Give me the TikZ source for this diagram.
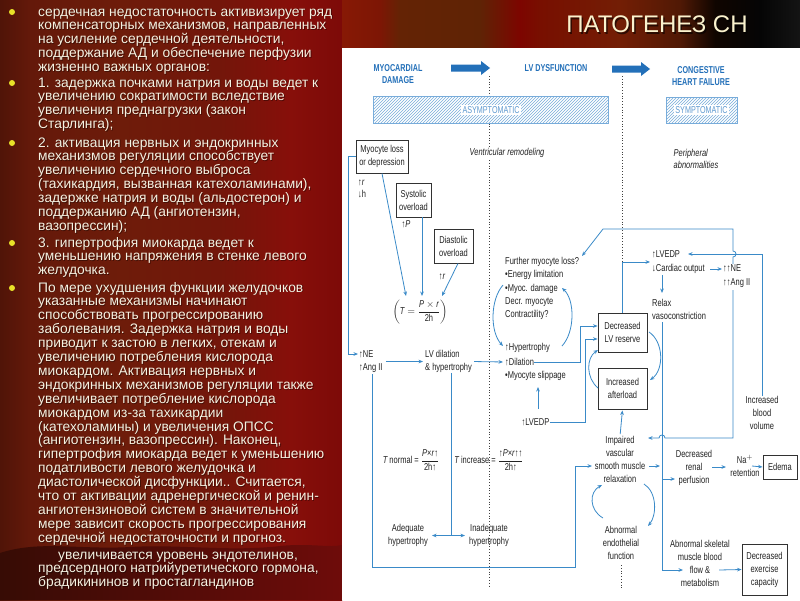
\documentclass[tikz,border=0pt]{standalone}
\usepackage{amsmath}
\usepackage{fontspec}
\setmainfont{Liberation Sans}
\newfontfamily\slidefont{Liberation Sans}
\newfontfamily\dfont[FakeStretch=0.75]{Liberation Sans}
\newfontfamily\hfont[FakeStretch=0.72]{Liberation Sans}
\usetikzlibrary{arrows.meta,patterns}

\definecolor{txt}{RGB}{246,242,226}
\definecolor{bul}{RGB}{232,226,40}
\definecolor{dtxt}{RGB}{34,34,34}
\definecolor{lblue}{RGB}{58,138,200}
\definecolor{hblue}{RGB}{35,112,185}
\definecolor{hatchc}{RGB}{120,172,218}
\definecolor{boxc}{RGB}{50,50,50}
\definecolor{titlec}{RGB}{250,242,205}
\definecolor{waveL}{RGB}{55,12,5}
\definecolor{waveR}{RGB}{110,12,10}

\pgfdeclarehorizontalshading{leftpanel}{100bp}{rgb(0bp)=(0.314,0.078,0.031); rgb(25bp)=(0.314,0.078,0.031); rgb(29.4bp)=(0.392,0.098,0.039); rgb(42.5bp)=(0.431,0.11,0.039); rgb(57.2bp)=(0.451,0.086,0.039); rgb(67.4bp)=(0.529,0.059,0.039); rgb(75bp)=(0.49,0.039,0.031); rgb(100bp)=(0.49,0.039,0.031)}
\pgfdeclarehorizontalshading{topbar}{100bp}{rgb(0bp)=(0.529,0.098,0.02); rgb(25bp)=(0.529,0.098,0.02); rgb(29.15bp)=(0.49,0.086,0.02); rgb(31.33bp)=(0.392,0.137,0.02); rgb(40.07bp)=(0.373,0.137,0.02); rgb(44.43bp)=(0.49,0.02,0); rgb(46.62bp)=(0.47,0.059,0); rgb(55.35bp)=(0.451,0.118,0.02); rgb(61.9bp)=(0.314,0.098,0.02); rgb(65.72bp)=(0.059,0.02,0); rgb(70.63bp)=(0.02,0.02,0.02); rgb(75bp)=(0.078,0.078,0.078); rgb(100bp)=(0.078,0.078,0.078)}

\newcommand\TL[3]{\node[tls] at ({#1+0.8},{#2+4.8}) {#3};\node[tl] at (#1,{#2+4}) {#3};}
\newcommand\dfr[2]{\ensuremath{\dfrac{\text{#1}}{\text{#2}}}}

\begin{document}
\begin{tikzpicture}[x=1pt,y=-1pt,
  tl/.style={anchor=base west,inner sep=0pt,text=txt,font=\slidefont\fontsize{13.8}{16}\selectfont},
  tls/.style={tl,text=black,text opacity=0.4},
  dt/.style={inner sep=0pt,text=dtxt,align=center,font=\dfont\fontsize{10}{13}\selectfont},
  dtl/.style={dt,align=left,anchor=west},
  dbox/.style={dt,draw=boxc,line width=0.9pt,fill=white},
  hdr/.style={inner sep=0pt,text=hblue,align=center,font=\hfont\bfseries\fontsize{10}{12}\selectfont},
  bl/.style={draw=lblue,line width=0.8pt},
  ar/.style={bl,-{Stealth[length=4.5pt,width=3.6pt]}},
  dar/.style={bl,{Stealth[length=4.5pt,width=3.6pt]}-{Stealth[length=4.5pt,width=3.6pt]}},
  dotl/.style={draw=black!75,line width=0.8pt,dotted},
  bulletdot/.style={fill=bul},
]
\useasboundingbox (0,0) rectangle (800,600);
% ---------- background ----------
\shade[shading=leftpanel] (0,0) rectangle (342,600);
\shade[shading=topbar] (342,0) rectangle (800,48);
\shade[left color=waveL,right color=waveR] (0,553) .. controls (40,540) and (80,550) .. (130,547) .. controls (180,544) and (230,552) .. (280,546) .. controls (310,543) and (330,548) .. (342,545) -- (342,600) -- (0,600) -- cycle;
\fill[white] (342,48) rectangle (800,600);
% ---------- title ----------
\node[inner sep=0pt,font=\slidefont\fontsize{24}{28}\selectfont,text=black,text opacity=0.6] (titles) at (658.5,26) {ПАТОГЕНЕЗ СН};
\node[inner sep=0pt,font=\slidefont\fontsize{24}{28}\selectfont,text=titlec] (title) at (657,24.5) {ПАТОГЕНЕЗ СН};
% ---------- bullets ----------
\foreach \by in {12,83,143,243,288} \fill[bulletdot] (12,\by) circle (3pt);
% ---------- left text ----------
\TL{38}{12}{сердечная недостаточность активизирует ряд}
\TL{38}{25.9}{компенсаторных механизмов, направленных}
\TL{38}{39.8}{на усиление сердечной деятельности,}
\TL{38}{53.7}{поддержание АД и обеспечение перфузии}
\TL{38}{67.6}{жизненно важных органов:}
\TL{38}{83}{1. задержка почками натрия и воды ведет к}
\TL{38}{96.9}{увеличению сократимости вследствие}
\TL{38}{110.8}{увеличения преднагрузки (закон}
\TL{38}{124.7}{Старлинга);}
\TL{38}{143}{2. активация нервных и эндокринных}
\TL{38}{156.9}{механизмов регуляции способствует}
\TL{38}{170.8}{увеличению сердечного выброса}
\TL{38}{184.7}{(тахикардия, вызванная катехоламинами),}
\TL{38}{198.6}{задержке натрия и воды (альдостерон) и}
\TL{38}{212.5}{поддержанию АД (ангиотензин,}
\TL{38}{226.4}{вазопрессин);}
\TL{38}{243}{3. гипертрофия миокарда ведет к}
\TL{38}{256.9}{уменьшению напряжения в стенке левого}
\TL{38}{270.8}{желудочка.}
\TL{38}{288}{По мере ухудшения функции желудочков}
\TL{38}{301.9}{указанные механизмы начинают}
\TL{38}{315.8}{способствовать прогрессированию}
\TL{38}{329.7}{заболевания. Задержка натрия и воды}
\TL{38}{343.6}{приводит к застою в легких, отекам и}
\TL{38}{357.5}{увеличению потребления кислорода}
\TL{38}{371.4}{миокардом. Активация нервных и}
\TL{38}{385.3}{эндокринных механизмов регуляции также}
\TL{38}{399.2}{увеличивает потребление кислорода}
\TL{38}{413.1}{миокардом из-за тахикардии}
\TL{38}{427}{(катехоламины) и увеличения ОПСС}
\TL{38}{440.9}{(ангиотензин, вазопрессин). Наконец,}
\TL{38}{454.8}{гипертрофия миокарда ведет к уменьшению}
\TL{38}{468.7}{податливости левого желудочка и}
\TL{38}{482.6}{диастолической дисфункции.. Считается,}
\TL{38}{496.5}{что от активации адренергической и ренин-}
\TL{38}{510.4}{ангиотензиновой систем в значительной}
\TL{38}{524.3}{мере зависит скорость прогрессирования}
\TL{38}{538.2}{сердечной недостаточности и прогноз.}
\TL{58}{555}{увеличивается уровень эндотелинов,}
\TL{38}{568.9}{предсердного натрийуретического гормона,}
\TL{38}{582.8}{брадикининов и простагландинов}
% ---------- diagram header ----------
\node[hdr] (hmd) at (398,74) {MYOCARDIAL\\DAMAGE};
\node[hdr] (hlv) at (556,68) {LV DYSFUNCTION};
\node[hdr] (hchf) at (701,76) {CONGESTIVE\\HEART FAILURE};
\fill[hblue] (451,64.5) -- (481,64.5) -- (481,61) -- (490,68) -- (481,75) -- (481,71.5) -- (451,71.5) -- cycle;
\fill[hblue] (612,65.5) -- (641,65.5) -- (641,62) -- (650,69) -- (641,76) -- (641,72.5) -- (612,72.5) -- cycle;
% dotted separators
\draw[dotl] (489,76) -- (489,588);
\draw[dotl] (622,76) -- (622,262);
% hatched bars
\fill[white] (373,96) rectangle (608,123);
\fill[pattern=north east lines,pattern color=hatchc] (373,96) rectangle (608,123);
\draw[hatchc,line width=0.7pt] (373,96) rectangle (608,123);
\node[fill=white,inner sep=1.5pt,text=hatchc!70!hblue,font=\hfont\fontsize{10}{10}\selectfont] (asym) at (491,110) {ASYMPTOMATIC};
\fill[white] (666,97) rectangle (737,123);
\fill[pattern=north east lines,pattern color=hatchc] (666,97) rectangle (737,123);
\draw[hatchc,line width=0.7pt] (666,97) rectangle (737,123);
\node[fill=white,inner sep=1.5pt,text=hatchc!70!hblue,font=\hfont\fontsize{10}{10}\selectfont] (symp) at (701.5,110) {SYMPTOMATIC};
% ---------- diagram nodes ----------
\node[dt,fill=white,inner sep=1pt,font=\dfont\itshape\fontsize{10}{13}\selectfont] (vrem) at (507,153) {Ventricular remodeling};
\node[dt,align=left,font=\dfont\itshape\fontsize{10}{12}\selectfont] (periph) at (696,159) {Peripheral\\abnormalities};
\node[dbox,minimum width=52pt,minimum height=33pt] (myo) at (382,156.5) {Myocyte loss\\or depression};
\node[dt,align=left,font=\dfont\fontsize{10}{12}\selectfont] (rh) at (362,189) {↑\textit{r}\\↓h};
\node[dbox,minimum width=35pt,minimum height=34pt] (sys) at (413.5,200) {Systolic\\overload};
\node[dt] (upP) at (406,224) {↑\textit{P}};
\node[dbox,minimum width=39pt,minimum height=34pt] (dia) at (453.5,246) {Diastolic\\overload};
\node[dt] (upr) at (442,277) {↑\textit{r}};
\node[dt] (tf) at (420,312) {$\left(\text{\itshape T} = \dfrac{\text{\itshape P}\times\text{\itshape r}}{\text{2h}}\right)$};
\node[dtl,font=\dfont\fontsize{10}{13.25}\selectfont] (fml) at (505,288.5) {Further myocyte loss?\\•Energy limitation\\•Myoc. damage\\Decr. myocyte\\Contractility?};
\node[dtl] (hyp) at (505,348) {↑Hypertrophy};
\node[dtl] (dil) at (505,362) {↑Dilation};
\node[dtl] (slip) at (505,376) {•Myocyte slippage};
\node[dt] (lved1) at (535.5,422) {↑LVEDP};
\node[dbox,minimum width=49pt,minimum height=39pt] (lvr) at (622.5,332.5) {Decreased\\LV reserve};
\node[dbox,minimum width=49pt,minimum height=41pt] (aft) at (622.5,388.5) {Increased\\afterload};
\node[dtl] (ne1) at (359,361.5) {↑NE\\↑Ang II};
\node[dtl] (lvd) at (425,361.5) {LV dilation\\\& hypertrophy};
\node[dt] (tnorm) at (411,460) {\textit{T}\,normal = \dfr{\textit{P}×\textit{r}↑}{2h↑}};
\node[dt] (tinc) at (489,460) {\textit{T}\,increase = \dfr{↑\textit{P}×\textit{r}↑↑}{2h↑}};
\node[dt] (adeq) at (408,535.5) {Adequate\\hypertrophy};
\node[dt] (inad) at (489,535.5) {Inadequate\\hypertrophy};
\node[dt] (imp) at (620,459.5) {Impaired\\vascular\\smooth muscle\\relaxation};
\node[dt] (endo) at (621,543) {Abnormal\\endothelial\\function};
\node[dt] (renal) at (694,467.5) {Decreased\\renal\\perfusion};
\node[dt] (na) at (745,466) {Na$^+$\\retention};
\node[dbox,minimum width=34pt,minimum height=24pt] (edema) at (780,467) {Edema};
\node[dt] (skel) at (700,563.5) {Abnormal skeletal\\muscle blood\\flow \&\\metabolism};
\node[dbox,minimum width=45pt,minimum height=51pt] (exer) at (764.5,569.5) {Decreased\\exercise\\capacity};
\node[dt] (bv) at (762,413) {Increased\\blood\\volume};
\node[dtl,font=\dfont\fontsize{10}{14}\selectfont] (lved2) at (652,262) {↑LVEDP\\↓Cardiac output};
\node[dtl,font=\dfont\fontsize{10}{14}\selectfont] (ne2) at (723,276) {↑↑NE\\↑↑Ang II};
\node[dtl] (relax) at (652,309.5) {Relax\\vasoconstriction};
% ---------- connectors ----------
\draw[ar] (myo.west) -- (348,156.5) -- (348,354) -- (358,354);
\draw[ar] (myo.south) -- (406,296);
\draw[ar] ([xshift=8.5pt]sys.south) -- (422,296);
\draw[ar] ([xshift=4.5pt]dia.south) -- (442,296);
\draw[ar,shorten <=3pt,shorten >=2pt] (ne1.east) -- (lvd.west);
\draw[ar,shorten <=2pt,shorten >=2pt] (lvd.east) -- (dil.west);
\coordinate (vx) at (451,535);
\draw[bl] (lvd.south -| vx) -- (vx);
\draw[dar,shorten <=4pt,shorten >=4pt] (adeq.east) -- (inad.west);
\draw[ar] (372,374) -- (372,567) -- (575,567) -- (575,466) -- (592,466);
\draw[ar] (dil.east) -- (580,362) |- ([yshift=6.5pt]lvr.west);
\draw[ar] (lved1.east) -- (585,422) |- ([yshift=-6.5pt]lvr.west);
\draw[ar] (538,409) -- (538,387);
\draw[ar] (503,285) .. controls (490,300) and (490,332) .. (503,346);
\draw[ar] (562,346) .. controls (575,332) and (575,300) .. (562,288);
\draw[ar] (649,332) .. controls (664,342) and (664,370) .. (650,380);
\draw[ar] (598,388) .. controls (586,378) and (586,358) .. (598,350);
\draw[ar,shorten >=2pt] (lvr.north) |- (lved2.west);
\draw[ar] (710,269) -- (722,269);
\draw[ar] (662,275) -- (662,293);
\draw[ar] (662,322) -- (662,570) -- (683,570);
\draw[ar] (662,479) -- (675,479);
\draw[ar] (649,466) -- (660,466);
\draw[ar,shorten <=2pt,shorten >=1pt] (imp.north) -- (aft.south);
\draw[ar] (733,290) -- (733,438) -- (665,438) .. controls (665,434) and (659,434) .. (659,438) -- (648,438);
\draw[ar] (733,264) -- (733,257) .. controls (737,257) and (737,251) .. (733,251) -- (733,229) -- (603,229) -- (582,256);
\draw[ar] (bv.north) |- (688,254);
\draw[ar] (712,467) -- (726,467);
\draw[ar] (752,466) -- (edema.west);
\draw[ar] (719,570) -- (exer.west);
\draw[ar] (603,518) .. controls (589,510) and (589,492) .. (602,485);
\draw[ar] (644,484) .. controls (657,492) and (657,515) .. (648,526);
\draw[dotl] (621,565) -- (621,590);
\end{tikzpicture}
\end{document}
